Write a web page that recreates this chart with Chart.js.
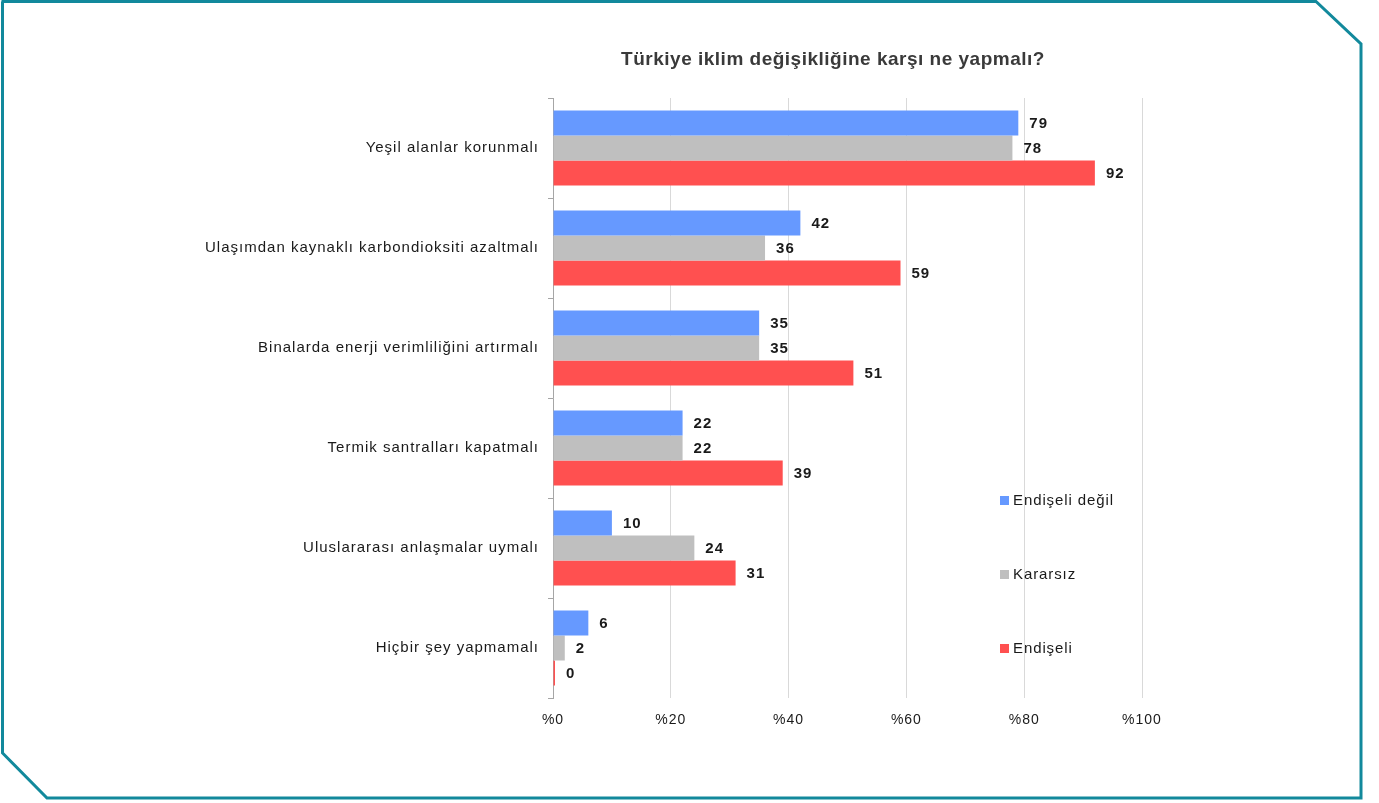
<!DOCTYPE html>
<html lang="tr">
<head>
<meta charset="utf-8">
<title>Türkiye iklim değişikliğine karşı ne yapmalı?</title>
<script src="https://cdn.jsdelivr.net/npm/chart.js@4.4.1/dist/chart.umd.min.js"></script>
<style>
  html, body { margin: 0; padding: 0; background: #fff; }
  #wrap { position: relative; width: 1379px; height: 803px; overflow: hidden; }
  #frame { position: absolute; left: 0; top: 0; }
  #box { position: absolute; left: 0; top: 0; width: 1379px; height: 803px; }
  #title {
    position: absolute; left: 553px; width: 560px; top: 48px; text-align: center;
    font: bold 19px "Liberation Sans", Arial, sans-serif; color: #3a3a3a; letter-spacing: 0.5px;
  }
  #legend { position: absolute; left: 1000px; top: 0; font: 15px "Liberation Sans", Arial, sans-serif; color: #1a1a1a; letter-spacing: 0.9px; }
  #legend div { position: absolute; white-space: nowrap; }
  #legend span { display: inline-block; width: 9px; height: 9px; margin-right: 4px; vertical-align: 0px; }
</style>
</head>
<body>
<div id="wrap">
  <svg id="frame" width="1379" height="803">
    <polyline points="1.5,1.5 1316,1.5 1361,44 1361,798 47,798 2.5,753 2.5,1.5"
              fill="none" stroke="#12899c" stroke-width="3" />
  </svg>
  <div id="box"><canvas id="myChart"></canvas></div>
  <div id="title">Türkiye iklim değişikliğine karşı ne yapmalı?</div>
  <div id="legend"></div>
</div>

<script>
// Kategorien (von oben nach unten)
const categories = [
    'Yeşil alanlar korunmalı',
    'Ulaşımdan kaynaklı karbondioksiti azaltmalı',
    'Binalarda enerji verimliliğini artırmalı',
    'Termik santralları kapatmalı',
    'Uluslararası anlaşmalar uymalı',
    'Hiçbir şey yapmamalı'
];

const seriesNames = ['Endişeli değil', 'Kararsız', 'Endişeli'];
const seriesColors = ['#6699ff', '#bfbfbf', '#ff5050'];

const endiseliDegil = [79, 42, 35, 22, 10, 6];
const kararsiz      = [78, 36, 35, 22, 24, 2];
const endiseli      = [92, 59, 51, 39, 31, 0];

const xTicks = [0, 20, 40, 60, 80, 100];

// Schrift im Original ist etwas gesperrt -> letterSpacing auf dem Canvas
const spacing = {
    id: 'spacing',
    beforeLayout(chart) { chart.ctx.letterSpacing = '1px'; },
    beforeDraw(chart) { chart.ctx.letterSpacing = '1px'; }
};

// Werte rechts neben den Balken
const valueLabels = {
    id: 'valueLabels',
    afterDatasetsDraw(chart) {
        const ctx = chart.ctx;
        ctx.save();
        ctx.font = 'bold 15px "Liberation Sans", Arial, sans-serif';
        ctx.letterSpacing = '1px';
        ctx.fillStyle = '#1a1a1a';
        ctx.textBaseline = 'middle';
        chart.data.datasets.forEach((ds, i) => {
            chart.getDatasetMeta(i).data.forEach((bar, j) => {
                ctx.fillText(ds.data[j], Math.max(bar.x, bar.base) + 11, bar.y + 1);
            });
        });
        ctx.restore();
    }
};

const config = {
    type: 'bar',
    data: {
        labels: categories,
        datasets: [endiseliDegil, kararsiz, endiseli].map((d, i) => ({
            label: seriesNames[i],
            data: d,
            backgroundColor: seriesColors[i],
            categoryPercentage: 0.75,
            barPercentage: 1.0,
            minBarLength: i === 2 ? 2 : 0
        }))
    },
    options: {
        indexAxis: 'y',
        responsive: false,
        animation: false,
        layout: { padding: { top: 98, right: 237, bottom: 65, left: 0 } },
        plugins: {
            legend: { display: false },
            tooltip: { enabled: false }
        },
        scales: {
            x: {
                min: 0,
                max: 100,
                afterBuildTicks: (scale) => { scale.ticks = xTicks.map(v => ({ value: v })); },
                afterFit: (scale) => { scale.height = 40; },
                border: { display: false },
                grid: { color: '#d9d9d9', lineWidth: 1, drawTicks: false },
                ticks: {
                    padding: 14,
                    color: '#1a1a1a',
                    font: { family: '"Liberation Sans", Arial, sans-serif', size: 14 },
                    callback: (v) => '%' + v
                }
            },
            y: {
                afterFit: (scale) => { scale.width = 553; },
                border: { display: true, color: '#a6a6a6' },
                grid: { drawOnChartArea: false, drawTicks: true, tickLength: 5, color: '#a6a6a6', offset: true },
                ticks: {
                    padding: 9,
                    color: '#1a1a1a',
                    font: { family: '"Liberation Sans", Arial, sans-serif', size: 15 }
                }
            }
        }
    },
    plugins: [spacing, valueLabels]
};

const canvas = document.querySelector('#myChart');
canvas.width = 1379;
canvas.height = 803;
new Chart(canvas.getContext('2d'), config);

// Legende (senkrecht, wie im Original)
const legendY = [501, 575, 649];
const legend = document.querySelector('#legend');
seriesNames.forEach((name, i) => {
    const item = document.createElement('div');
    item.style.top = (legendY[i] - 10) + 'px';
    item.innerHTML = '<span style="background:' + seriesColors[i] + '"></span>' + name;
    legend.appendChild(item);
});
</script>
</body>
</html>
